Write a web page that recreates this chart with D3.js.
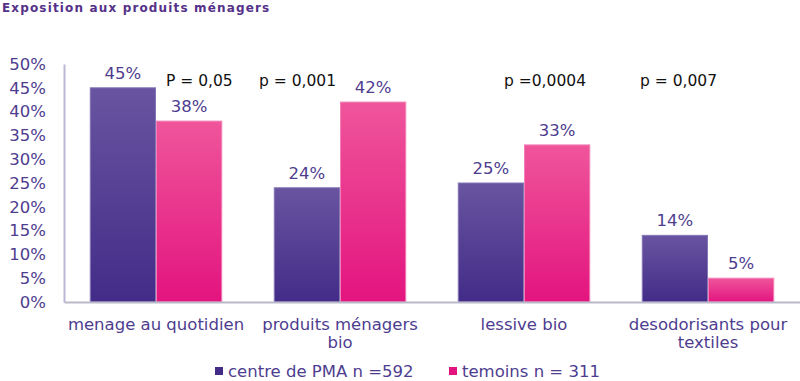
<!DOCTYPE html>
<html><head><meta charset="utf-8">
<script src="https://cdn.jsdelivr.net/npm/d3@7"></script>
<style>
html,body{margin:0;padding:0;background:#fff;}
svg{display:block;font-family:"DejaVu Sans",Verdana,sans-serif;}
</style></head>
<body>
<svg id="c" width="800" height="381"></svg>
<script>
const title = "Exposition aux produits ménagers";
const categories = [["menage au quotidien"], ["produits ménagers", "bio"], ["lessive bio"], ["desodorisants pour", "textiles"]];
const seriesNames = ["centre de PMA n =592", "temoins n = 311"];
const pmaValues = [45, 24, 25, 14];
const temoinsValues = [38, 42, 33, 5];
const pValues = ["P = 0,05", "p = 0,001", "p =0,0004", "p = 0,007"];
const yTicks = [0, 5, 10, 15, 20, 25, 30, 35, 40, 45, 50];

const svg = d3.select("#c");
const M = {left: 64, right: 800, top: 64, bottom: 302};
const purple = "#4e3d8f";

const defs = svg.append("defs");
const grads = [["gP", "#6854a0", "#432c88"], ["gT", "#ef559b", "#e3147f"]];
grads.forEach(([id, c1, c2]) => {
  const g = defs.append("linearGradient").attr("id", id).attr("x1", 0).attr("y1", 0).attr("x2", 0).attr("y2", 1);
  g.append("stop").attr("offset", "0%").attr("stop-color", c1);
  g.append("stop").attr("offset", "100%").attr("stop-color", c2);
});

const catKeys = categories.map(c => c.join(" "));
const x0 = d3.scaleBand().domain(catKeys).range([M.left, M.right]).paddingInner(0.28).paddingOuter(0.14);
const x1 = d3.scaleBand().domain(seriesNames).range([0, x0.bandwidth()]);
const y = d3.scaleLinear().domain([0, 50]).range([M.bottom, M.top]);

// title
svg.append("text").attr("x", 2).attr("y", 12).attr("font-size", 12).attr("font-weight", "bold")
  .attr("fill", "#553188").attr("letter-spacing", "1.15px").text(title);

// y axis
const yAxis = d3.axisLeft(y).tickValues(yTicks).tickFormat(d => d + "%").tickSize(0).tickPadding(18);
const gy = svg.append("g").attr("transform", `translate(${M.left},0)`).call(yAxis);
gy.select(".domain").attr("stroke", "#bdb5d5").attr("stroke-width", 2);
gy.selectAll("text").attr("font-size", 16.5).attr("fill", purple).attr("font-family", "DejaVu Sans");

// bars
const data = catKeys.map((k, i) => ({k, vals: [pmaValues[i], temoinsValues[i]]}));
const fills = ["url(#gP)", "url(#gT)"];
const strokes = ["#8577b5", "#f27fb5"];
const groups = svg.append("g").selectAll("g").data(data).join("g")
  .attr("transform", d => `translate(${x0(d.k)},0)`);
groups.selectAll("rect").data(d => d.vals.map((v, j) => ({v, j}))).join("rect")
  .attr("x", d => x1(seriesNames[d.j]) + 0.5)
  .attr("y", d => y(d.v))
  .attr("width", x1.bandwidth() - 1)
  .attr("height", d => y(0) - y(d.v))
  .attr("fill", d => fills[d.j])
  .attr("stroke", d => strokes[d.j]).attr("stroke-width", 1);
groups.selectAll("text.v").data(d => d.vals.map((v, j) => ({v, j}))).join("text").attr("class", "v")
  .attr("x", d => x1(seriesNames[d.j]) + x1.bandwidth() / 2)
  .attr("y", d => y(d.v) - 9)
  .attr("text-anchor", "middle").attr("font-size", 16.5).attr("fill", purple)
  .text(d => d.v + "%");

// x axis
const xAxis = d3.axisBottom(x0).tickSize(0).tickFormat("");
const gx = svg.append("g").attr("transform", `translate(0,${M.bottom})`).call(xAxis);
gx.select(".domain").attr("stroke", "#b9b9c9").attr("stroke-width", 2);
const catLab = svg.append("g").selectAll("text").data(categories).join("text")
  .attr("x", (d, i) => x0(catKeys[i]) + x0.bandwidth() / 2)
  .attr("y", 330).attr("text-anchor", "middle").attr("font-size", 16.5).attr("fill", purple);
catLab.selectAll("tspan").data(d => d).join("tspan")
  .attr("x", function() { return this.parentNode.getAttribute("x"); })
  .attr("dy", (d, i) => i === 0 ? 0 : 18).text(d => d);

// p-values
const pX = [166, 259, 504, 640];
svg.append("g").selectAll("text").data(pValues).join("text")
  .attr("x", (d, i) => pX[i]).attr("y", 86).attr("font-size", 15.5).attr("fill", "#111").text(d => d);

// legend
const legX = [215, 449];
const lg = svg.append("g").selectAll("g").data(seriesNames).join("g")
  .attr("transform", (d, i) => `translate(${legX[i]},367)`);
lg.append("rect").attr("width", 8).attr("height", 8).attr("fill", (d, i) => i ? "#e3147f" : "#432c88");
lg.append("text").attr("x", 13).attr("y", 10).attr("font-size", 16.5).attr("fill", purple).text(d => d);
</script>
</body></html>
